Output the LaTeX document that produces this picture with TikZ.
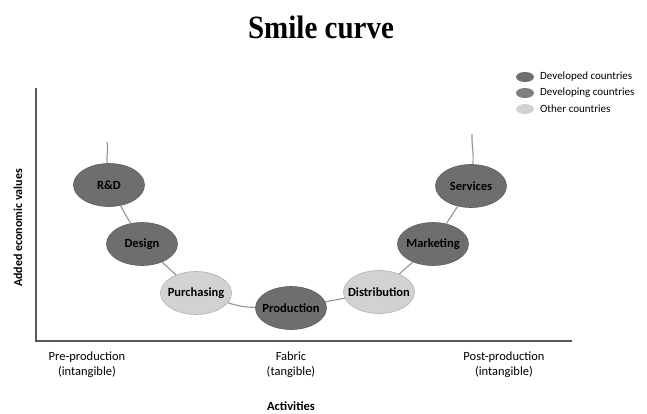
\documentclass[tikz,border=0pt]{standalone}
\usepackage{fontspec}
\setmainfont{Carlito}
\newfontfamily\titlefont{Liberation Serif}
\usepackage{tikz}
\usetikzlibrary{shapes.geometric,positioning}
\definecolor{devd}{HTML}{6E6E6E}
\definecolor{devg}{HTML}{7E7E7E}
\definecolor{oth}{HTML}{D2D2D2}
\tikzset{
  stage/.style={ellipse,draw=#1!85!black,fill=#1,line width=0.6pt,minimum width=71pt,minimum height=43pt,inner ysep=0pt,inner xsep=-9pt,font=\fontsize{12.5}{13}\selectfont\bfseries},
  key/.style={ellipse,fill=#1,minimum width=18pt,minimum height=10pt,inner sep=0pt},
  keytext/.style={anchor=west,inner sep=0pt,font=\fontsize{11}{12}\selectfont},
  smile/.style={draw=black!42,line width=1.1pt},
  axis/.style={draw=black!65,line width=1.6pt},
  lab/.style={align=center,font=\fontsize{12.5}{15}\selectfont}
}
\begin{document}
\begin{tikzpicture}[x=1pt,y=-1pt]
\useasboundingbox (0,0) rectangle (647,413);
% title
\node[font=\titlefont\fontsize{29}{30}\selectfont\bfseries,yscale=1.12,transform shape] (title) at (321,27) {Smile curve};

% axes
\coordinate (ytop) at (36,88);
\coordinate (xend) at (572,341);
\draw[axis] (ytop) |- (xend);
\node[rotate=90,font=\fontsize{12}{14}\selectfont\bfseries] (ylab) at (18,228) {Added economic values};

% legend
\node[key=devd] (k1) at (525,77) {};
\node[key=devg] (k2) at (525,93) {};
\node[key=oth] (k3) at (525,109) {};
\node[keytext] (t1) at (540,77) {Developed countries};
\node[keytext] (t2) at (540,93) {Developing countries};
\node[keytext] (t3) at (540,109) {Other countries};

% curve ends
\coordinate (lend) at (107,142);
\coordinate (rend) at (472,134);

% stages
\node[stage=devd] (rnd) at (109,185) {R\&D};
\node[stage=devd] (design) at (142,244) {Design};
\node[stage=oth] (purch) at (196,293) {Purchasing};
\node[stage=devd] (prod) at (291,308) {Production};
\node[stage=oth] (distr) at (379,292) {Distribution};
\node[stage=devd] (market) at (433,244) {Marketing};
\node[stage=devd] (serv) at (471,186) {Services};

\draw[smile] (lend) to[out=-80,in=95] (rnd);
\draw[smile] (rnd) -- (design);
\draw[smile] (design) -- (purch);
\draw[smile] (purch) to[bend right=8] (prod);
\draw[smile] (prod) -- (distr);
\draw[smile] (distr) -- (market);
\draw[smile] (market) -- (serv);
\draw[smile] (serv) to[out=85,in=-92] (rend);

% x labels
\node[lab] (pre) at (87,365) {Pre-production\\(intangible)};
\node[lab] (fab) at (291,365) {Fabric\\(tangible)};
\node[lab] (post) at (504,365) {Post-production\\(intangible)};
\node[font=\fontsize{12.5}{14}\selectfont\bfseries] (act) at (291,406) {Activities};
\end{tikzpicture}
\end{document}
